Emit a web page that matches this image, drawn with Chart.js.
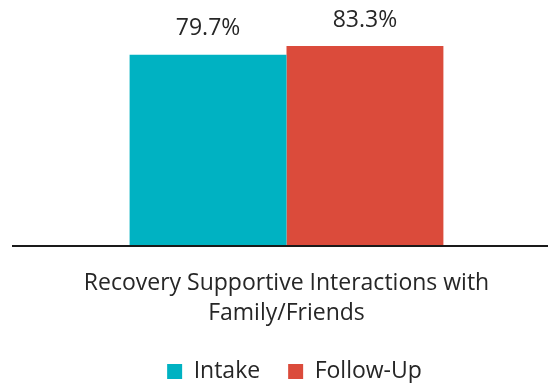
<!DOCTYPE html>
<html>
<head>
<meta charset="utf-8">
<script src="https://cdn.jsdelivr.net/npm/chart.js@4/dist/chart.umd.min.js"></script>
<style>
  html, body { margin: 0; padding: 0; background: #fff; overflow: hidden; }
  #wrap { width: 548px; height: 383px; position: relative; }
</style>
</head>
<body>
<div id="wrap"><canvas id="chart"></canvas></div>
<script>
const categories = [['Recovery Supportive Interactions with', 'Family/Friends']];
const seriesNames = ['Intake', 'Follow-Up'];
const intakeValues = [79.7];
const followUpValues = [83.3];
const seriesColors = ['#00B2C2', '#DB4B3B'];

const valueLabels = {
    id: 'valueLabels',
    afterDatasetsDraw(chart) {
        const ctx = chart.ctx;
        ctx.save();
        ctx.font = '23px "Open Sans"';
        ctx.fillStyle = '#262626';
        ctx.textAlign = 'center';
        ctx.textBaseline = 'middle';
        chart.data.datasets.forEach((ds, i) => {
            chart.getDatasetMeta(i).data.forEach((bar, j) => {
                ctx.fillText(ds.data[j].toFixed(1) + '%', bar.x, bar.y - 26);
            });
        });
        ctx.restore();
    }
};

const baseLine = {
    id: 'baseLine',
    afterDraw(chart) {
        const ctx = chart.ctx;
        const y = chart.scales.y.getPixelForValue(0);
        ctx.save();
        ctx.strokeStyle = '#1a1a1a';
        ctx.lineWidth = 2;
        ctx.beginPath();
        ctx.moveTo(12, y);
        ctx.lineTo(chart.width, y);
        ctx.stroke();
        ctx.restore();
    }
};

// legend in the reference sits a little right of the bars' centre
const legendShift = {
    id: 'legendShift',
    afterLayout(chart) {
        chart.legend.left += 8;
        chart.legend.right += 8;
    }
};

new Chart(document.getElementById('chart'), {
    type: 'bar',
    data: {
        labels: categories,
        datasets: [
            { label: seriesNames[0], data: intakeValues, backgroundColor: seriesColors[0] },
            { label: seriesNames[1], data: followUpValues, backgroundColor: seriesColors[1] }
        ]
    },
    options: {
        responsive: true,
        maintainAspectRatio: false,
        animation: false,
        layout: { padding: { top: 6, left: 25, right: 0, bottom: -10 } },
        datasets: { bar: { categoryPercentage: 0.6, barPercentage: 1.0 } },
        plugins: {
            legend: {
                position: 'bottom',
                labels: {
                    boxWidth: 15,
                    boxHeight: 15,
                    padding: 28,
                    color: '#262626',
                    font: { family: 'Open Sans', size: 23 }
                }
            },
            tooltip: { enabled: false }
        },
        scales: {
            x: {
                grid: { display: false, drawTicks: false },
                border: { display: false },
                afterFit(scale) { scale.height = 86; },
                ticks: {
                    color: '#262626',
                    padding: 23,
                    font: { family: 'Open Sans', size: 23, lineHeight: 1.3 }
                }
            },
            y: {
                display: false,
                min: 0,
                max: 100
            }
        }
    },
    plugins: [valueLabels, baseLine, legendShift]
});
</script>
</body>
</html>
